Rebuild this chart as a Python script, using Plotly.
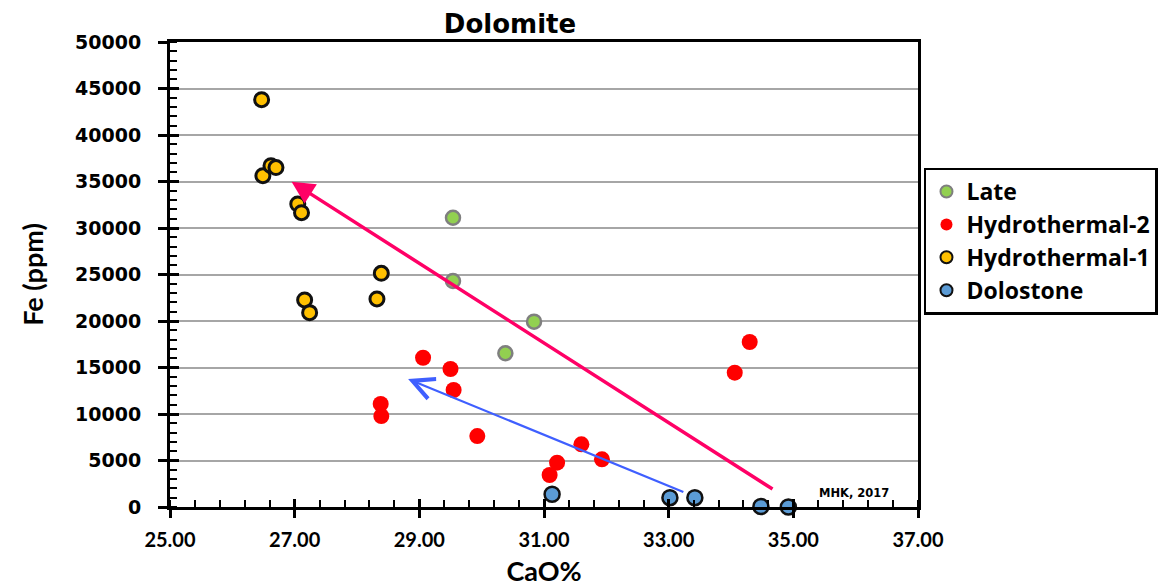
import plotly.graph_objects as go

# ---- data (CaO %, Fe ppm) ----
late_cao = [29.54, 29.54, 30.84, 30.38]
late_fe = [31100, 24300, 19930, 16530]

hyd2_cao = [29.06, 29.50, 29.55, 28.38, 28.39, 29.93, 31.09, 31.21, 31.60, 31.93, 34.06, 34.30]
hyd2_fe = [16050, 14840, 12580, 11080, 9780, 7630, 3440, 4770, 6740, 5130, 14440, 17740]

hyd1_cao = [26.47, 26.49, 26.62, 26.70, 27.05, 27.11, 27.16, 27.24, 28.32, 28.39]
hyd1_fe = [43800, 35620, 36700, 36500, 32580, 31650, 22260, 20900, 22370, 25130]

dolo_cao = [31.13, 33.02, 33.42, 34.48, 34.92]
dolo_fe = [1370, 1000, 1000, 50, 0]

# trend arrows: [tail, head]
pink_arrow_cao = [34.69, 26.95]
pink_arrow_fe = [1830, 34980]
blue_arrow_cao = [33.26, 28.82]
blue_arrow_fe = [1540, 13760]

x_ticks = [25, 27, 29, 31, 33, 35, 37]
y_ticks = list(range(0, 50001, 5000))

LABEL_FONT = "Lato"

fig = go.Figure()

fig.add_trace(go.Scatter(
    x=late_cao, y=late_fe, mode="markers", name="Late", legendgroup="a",
    marker=dict(size=14, color="#92d050", line=dict(color="#7f7f7f", width=2.5)),
    cliponaxis=False))
fig.add_trace(go.Scatter(
    x=hyd2_cao, y=hyd2_fe, mode="markers", name="Hydrothermal-2", legendgroup="b",
    marker=dict(size=16, color="#ff0000", line=dict(color="#ff0000", width=0)),
    cliponaxis=False))
fig.add_trace(go.Scatter(
    x=hyd1_cao, y=hyd1_fe, mode="markers", name="Hydrothermal-1", legendgroup="c",
    marker=dict(size=14, color="#ffc000", line=dict(color="#111111", width=3)),
    cliponaxis=False))
fig.add_trace(go.Scatter(
    x=dolo_cao, y=dolo_fe, mode="markers", name="Dolostone", legendgroup="d",
    marker=dict(size=15, color="#5b9bd5", line=dict(color="#111111", width=2.5)),
    cliponaxis=False))

# overlay axes to make major ticks cross the axis line
fig.add_trace(go.Scatter(x=[None], y=[None], xaxis="x2", yaxis="y2",
                         showlegend=False, hoverinfo="skip"))

fig.add_annotation(
    x=pink_arrow_cao[1], y=pink_arrow_fe[1], ax=pink_arrow_cao[0], ay=pink_arrow_fe[0],
    xref="x", yref="y", axref="x", ayref="y", text="", showarrow=True,
    arrowhead=2, arrowsize=1.3, arrowwidth=3.5, arrowcolor="#ff0066")
fig.add_annotation(
    x=blue_arrow_cao[1], y=blue_arrow_fe[1], ax=blue_arrow_cao[0], ay=blue_arrow_fe[0],
    xref="x", yref="y", axref="x", ayref="y", text="", showarrow=True,
    arrowhead=5, arrowsize=1.9, arrowwidth=2.2, arrowcolor="#3f5fff")

fig.add_annotation(x=35.98, y=1500, xref="x", yref="y", text="<b>MHK, 2017</b>",
                   showarrow=False, font=dict(family="DejaVu Sans", size=11.5, color="black"))

fig.update_layout(
    width=1162, height=587,
    margin=dict(l=170, r=244, t=42, b=80, autoexpand=False),
    paper_bgcolor="white", plot_bgcolor="white",
    title=dict(text="<b>Dolomite</b>", x=510 / 1162, xanchor="center", y=1 - 24 / 587,
               yanchor="middle", font=dict(family="DejaVu Sans", size=26, color="black")),
    showlegend=True,
    legend=dict(x=1.008, y=0.73, xanchor="left", yanchor="top",
                bordercolor="black", borderwidth=2.5, bgcolor="white",
                font=dict(family="Open Sans", size=23, color="black", weight="bold"),
                tracegroupgap=0, itemsizing="constant"),
    xaxis=dict(
        range=[25, 37], tickvals=x_ticks, ticktext=[f"{v:.2f}" for v in x_ticks],
        showgrid=False, zeroline=False, automargin=False,
        showline=True, linecolor="black", linewidth=2.5, mirror=True,
        ticks="outside", ticklen=8, tickwidth=2.5, tickcolor="black",
        ticklabelstandoff=5,
        minor=dict(dtick=0.4, tick0=25, ticks="inside", ticklen=7, tickwidth=2, tickcolor="black"),
        tickfont=dict(family=LABEL_FONT, size=20, color="black", weight="bold"),
        title=dict(text="<b>CaO%</b>", standoff=18,
                   font=dict(family=LABEL_FONT, size=27, color="black")),
    ),
    yaxis=dict(
        range=[0, 50000], tickvals=y_ticks, ticktext=[f"{v}\u00a0\u00a0" for v in y_ticks],
        showgrid=True, gridcolor="#a6a6a6", gridwidth=2, zeroline=False, automargin=False,
        showline=True, linecolor="black", linewidth=2.5, mirror=True,
        ticks="outside", ticklen=9, tickwidth=2.5, tickcolor="black",
        minor=dict(dtick=1000, tick0=0, ticks="inside", ticklen=7, tickwidth=2, tickcolor="black"),
        tickfont=dict(family="DejaVu Sans", size=19, color="black", weight="bold"),
        title=dict(text="<b>Fe (ppm)</b>", standoff=24,
                   font=dict(family=LABEL_FONT, size=27, color="black")),
    ),
    xaxis2=dict(overlaying="x", matches="x", range=[25, 37], tickvals=x_ticks,
                showticklabels=False, showgrid=False, zeroline=False, showline=False,
                ticks="inside", ticklen=8, tickwidth=2.5, tickcolor="black"),
    yaxis2=dict(overlaying="y", matches="y", range=[0, 50000], tickvals=y_ticks,
                showticklabels=False, showgrid=False, zeroline=False, showline=False,
                ticks="inside", ticklen=9, tickwidth=2.5, tickcolor="black"),
)

fig.write_html("out.html")
